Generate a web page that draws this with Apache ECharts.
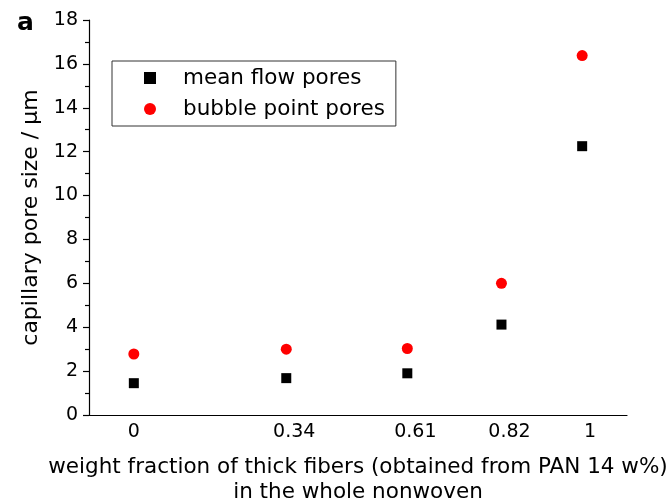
<!DOCTYPE html>
<html>
<head>
<meta charset="utf-8">
<script src="https://cdn.jsdelivr.net/npm/echarts@6/dist/echarts.min.js"></script>
<style>
  html, body { margin: 0; padding: 0; background: #fff; }
  #chart { width: 670px; height: 504px; }
</style>
</head>
<body>
<div id="chart"></div>
<script>
// weight fraction of thick fibers
var fractions = [0, 0.34, 0.61, 0.82, 1];
var xTickValues = [0, 0.34, 0.61, 0.82, 1];
// capillary pore size / um
var meanFlow = [1.45, 1.68, 1.9, 4.12, 12.25];
var bubblePoint = [2.78, 3.0, 3.03, 6.0, 16.38];

function pairs(xs, ys) {
  var out = [];
  for (var i = 0; i < xs.length; i++) out.push([xs[i], ys[i]]);
  return out;
}

var font = '"DejaVu Sans", sans-serif';

var option = {
  animation: false,
  title: {
    text: 'a',
    left: 12,
    top: 6,
    textStyle: { fontFamily: font, fontWeight: 'bold', fontSize: 25, color: '#000' }
  },
  legend: {
    orient: 'vertical',
    left: 112,
    top: 61,
    padding: [6, 11, 6, 32],
    itemGap: 9,
    itemWidth: 12,
    itemHeight: 12,
    borderColor: '#333',
    borderWidth: 1,
    textStyle: { fontFamily: font, fontSize: 21.5, color: '#000', padding: [0, 0, 0, 22] },
    data: [
      { name: 'mean flow pores', icon: 'rect' },
      { name: 'bubble point pores', icon: 'circle' }
    ]
  },
  grid: { left: 89, right: 43, top: 20, bottom: 89, outerBoundsMode: 'none' },
  xAxis: {
    type: 'value',
    min: -0.1,
    max: 1.1,
    name: 'weight fraction of thick fibers (obtained from PAN 14 w%)\nin the whole nonwoven',
    nameLocation: 'middle',
    nameGap: 40,
    nameTextStyle: { fontFamily: font, fontSize: 21.5, color: '#000', lineHeight: 25, verticalAlign: 'top' },
    axisLine: { lineStyle: { color: '#000', width: 1.2 } },
    axisTick: { show: false },
    splitLine: { show: false },
    axisLabel: {
      customValues: xTickValues,
      margin: 8,
      fontFamily: font, fontSize: 19, color: '#000',
      formatter: function (v) { return v === 0 ? String(v) : '{s|' + v + '}'; },
      rich: { s: { fontFamily: font, fontSize: 19, color: '#000', padding: [0, 0, 0, 16] } }
    }
  },
  yAxis: {
    type: 'value',
    min: 0,
    max: 18,
    interval: 2,
    name: 'capillary pore size / µm',
    nameLocation: 'middle',
    nameGap: 47,
    nameTextStyle: { fontFamily: font, fontSize: 22, color: '#000' },
    axisLine: { show: true, onZero: false, lineStyle: { color: '#000', width: 1.2 } },
    axisTick: { show: true, length: 6, lineStyle: { color: '#000', width: 1.2 } },
    minorTick: { show: true, splitNumber: 2, length: 4, lineStyle: { color: '#000', width: 1.2 } },
    splitLine: { show: false },
    axisLabel: { margin: 11, fontFamily: font, fontSize: 19, color: '#000' }
  },
  series: [
    {
      name: 'mean flow pores',
      type: 'scatter',
      symbol: 'rect',
      symbolSize: 10,
      itemStyle: { color: '#000', opacity: 1 },
      data: pairs(fractions, meanFlow)
    },
    {
      name: 'bubble point pores',
      type: 'scatter',
      symbol: 'circle',
      symbolSize: 11,
      itemStyle: { color: '#ff0000', opacity: 1 },
      data: pairs(fractions, bubblePoint)
    }
  ]
};

var chart = echarts.init(document.getElementById('chart'));
chart.setOption(option);
</script>
</body>
</html>
